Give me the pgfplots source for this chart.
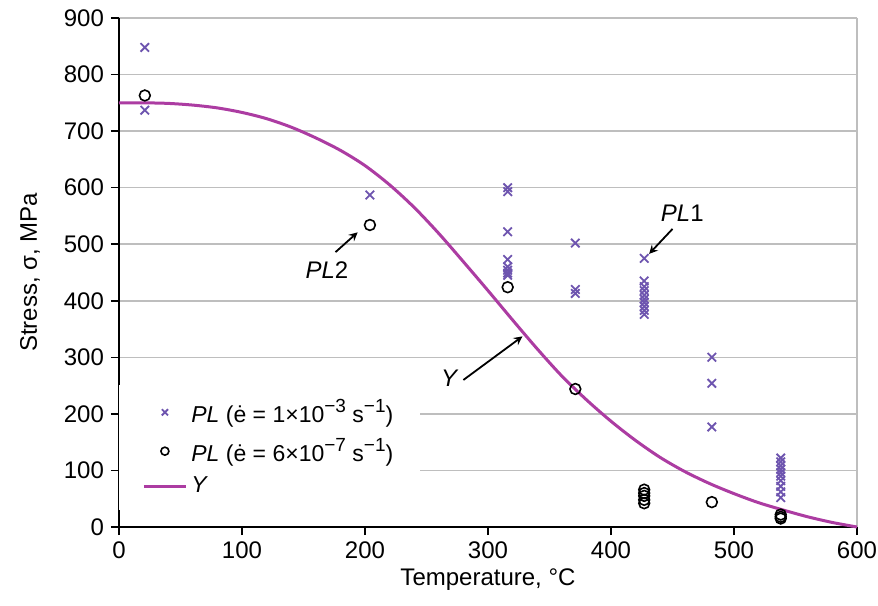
\documentclass[border=0pt]{standalone}
\usepackage{fontspec}
\setmainfont{Liberation Sans}
\usepackage{pgfplots}
\pgfplotsset{compat=1.18}
\definecolor{crosscol}{RGB}{110,85,175}
\definecolor{ycol}{RGB}{172,60,162}
\definecolor{gridcol}{RGB}{190,190,190}
\newcommand{\sups}[1]{\raisebox{0.42em}{\fontsize{9.5}{10}\selectfont #1}}
\pgfplotsset{
  legxmark/.style={legend image code/.code={\draw[mark repeat=2,mark phase=2,##1,mark size=2.2pt] plot coordinates {(0pt,0pt) (10.5pt,0pt) (21pt,0pt)};}},
  legomark/.style={legend image code/.code={\draw[mark repeat=2,mark phase=2,##1,mark size=2pt] plot coordinates {(0pt,0pt) (10.5pt,0pt) (21pt,0pt)};}},
  legline/.style={legend image code/.code={\draw[##1] (0pt,0pt) -- (21pt,0pt);}},
}
\begin{document}
\begin{tikzpicture}
\begin{axis}[
  scale only axis,
  width=369pt, height=254.5pt,
  xmin=0, xmax=600, ymin=0, ymax=900,
  xtick={0,100,...,600}, ytick={0,100,...,900},
  axis lines*=left,
  axis line style={black, line width=0.8pt},
  tick align=outside,
  major tick length=4pt,
  tick style={black, line width=0.8pt},
  ymajorgrids,
  grid style={gridcol, line width=0.8pt},
  /pgf/number format/assume math mode=true,
  ticklabel style={font=\fontsize{12}{14}\selectfont},
  xlabel={Temperature, °C},
  ylabel={Stress, σ, MPa},
  label style={font=\fontsize{12}{14}\selectfont},
  xlabel style={at={(axis description cs:0.5,-0.104)}, anchor=center},
  ylabel style={at={(axis description cs:-0.1206,0.5)}, anchor=center, rotate=0},
  legend style={at={(rel axis cs:0,0.279)}, anchor=north west, draw=none, fill=white,
    font=\fontsize{11.5}{13}\selectfont, row sep=2.5pt, inner xsep=11.5pt, inner ysep=5pt},
  legend cell align=left,
  clip=false,
]
\draw[gridcol, line width=0.8pt] (axis cs:600,0) -- (axis cs:600,900);
\addplot[only marks, mark=x, mark size=3pt, color=crosscol, line width=0.9pt, legxmark]
  coordinates {
  (21,848) (21,737)
  (204,587)
  (316,600) (316,593) (316,522) (316,473) (316,460) (316,454) (316,449) (316,445)
  (371,502) (371,420) (371,413)
  (427,475) (427,435) (427,425) (427,418) (427,410) (427,403) (427,397) (427,390) (427,383) (427,376)
  (482,300) (482,254) (482,177)
  (538,122) (538,115) (538,108) (538,102) (538,96) (538,90) (538,82) (538,72) (538,62) (538,52)
  };
\addlegendentry{\textit{PL} (ė = 1×10\sups{−3} s\sups{−1})}
\addplot[only marks, mark=o, mark size=2.7pt, color=black, line width=0.8pt, legomark]
  coordinates {
  (21,763) (204,534) (316,424) (371,244)
  (427,66) (427,60) (427,55) (427,48) (427,42)
  (482,44)
  (538,22) (538,18) (538,15)
  };
\addlegendentry{\textit{PL} (ė = 6×10\sups{−7} s\sups{−1})}
\addplot[color=ycol, line width=1.5pt, smooth, legline]
  coordinates {
  (0,750) (20,750) (40,749) (60,746) (80,741) (100,733) (120,722) (140,707)
  (160,688) (180,666) (200,639) (220,605) (240,565) (260,519) (280,469)
  (300,418) (320,366) (340,315) (360,267) (380,225) (400,187) (420,153)
  (440,123) (460,98) (480,77) (500,59) (520,43) (540,30) (560,18) (580,8) (600,0)
  };
\addlegendentry{\textit{Y}}
\draw[->, >=stealth, line width=0.9pt] (axis cs:176,486) -- (axis cs:194,521);
\node[font=\fontsize{12}{14}\selectfont] at (axis cs:169,454) {\textit{PL}2};
\draw[->, >=stealth, line width=0.9pt] (axis cs:450,527) -- (axis cs:431,483);
\node[font=\fontsize{12}{14}\selectfont] at (axis cs:458,555) {\textit{PL}1};
\draw[->, >=stealth, line width=0.9pt] (axis cs:280,260) -- (axis cs:328,337);
\node[font=\fontsize{12}{14}\selectfont] at (axis cs:269,263) {\textit{Y}};
\end{axis}
\pgfresetboundingbox
\path (-59.5pt,-39pt) rectangle (379.5pt,263.5pt);
\end{tikzpicture}
\end{document}
